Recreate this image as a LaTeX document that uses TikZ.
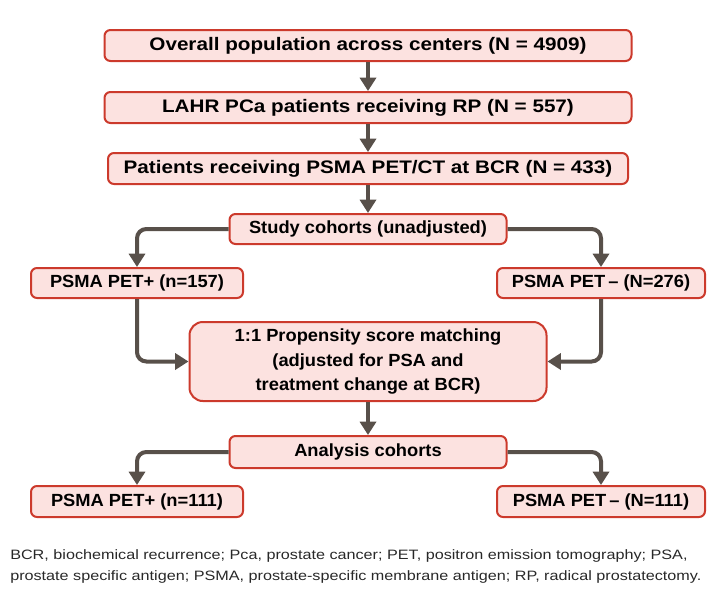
\documentclass[tikz,border=0pt]{standalone}
\usepackage{fontspec}
\setmainfont{Liberation Sans}
\newfontfamily\bigf[FakeStretch=1.14]{Liberation Sans}
\newfontfamily\smallf[FakeStretch=1.04]{Liberation Sans}
\newfontfamily\notef[FakeStretch=1.19]{Liberation Sans}
\usetikzlibrary{arrows.meta}
\definecolor{boxfill}{RGB}{252,226,224}
\definecolor{boxline}{RGB}{204,58,44}
\definecolor{arr}{RGB}{88,80,74}
\definecolor{note}{RGB}{40,40,40}
\tikzset{
  box/.style={draw=boxline, fill=boxfill, line width=1.5pt, rounded corners=4.5pt, inner sep=0pt, align=center, font=\bigf\bfseries\fontsize{13.6}{16}\selectfont},
  sbox/.style={box, font=\smallf\bfseries\fontsize{13.2}{15}\selectfont},
  conn/.style={draw=arr, line width=3pt, rounded corners=7pt, -{Triangle[width=12pt,length=10pt]}},
}
\begin{document}
\begin{tikzpicture}[x=0.75pt,y=-0.75pt]
\useasboundingbox (0,0) rectangle (717,603);
\node[box, minimum width={527*0.75pt}, minimum height={31*0.75pt}] (a) at (368,45.5) {Overall population across centers (N = 4909)};
\node[box, minimum width={527*0.75pt}, minimum height={31*0.75pt}] (b) at (368,107.5) {LAHR PCa patients receiving RP (N = 557)};
\node[box, minimum width={520*0.75pt}, minimum height={31*0.75pt}] (c) at (368,168.5) {Patients receiving PSMA PET/CT at BCR (N = 433)};
\node[sbox, minimum width={277*0.75pt}, minimum height={30*0.75pt}] (d) at (368,229) {Study cohorts (unadjusted)};
\node[sbox, minimum width={212*0.75pt}, minimum height={30*0.75pt}] (e) at (137,283) {PSMA PET+ (n=157)};
\node[sbox, minimum width={208*0.75pt}, minimum height={30*0.75pt}] (f) at (601,283) {PSMA PET\,– (N=276)};
\node[sbox, minimum width={357*0.75pt}, minimum height={79*0.75pt}, rounded corners=10pt, font=\smallf\bfseries\fontsize{13.2}{18.6}\selectfont] (g) at (368,361.5) {1:1 Propensity score matching\\(adjusted for PSA and\\treatment change at BCR)};
\node[sbox, minimum width={277*0.75pt}, minimum height={32*0.75pt}] (h) at (368,452) {Analysis cohorts};
\node[sbox, minimum width={212*0.75pt}, minimum height={31*0.75pt}] (i) at (137,501.5) {PSMA PET+ (n=111)};
\node[sbox, minimum width={208*0.75pt}, minimum height={31*0.75pt}] (j) at (601,501.5) {PSMA PET\,– (N=111)};
\draw[conn] (a.south) -- (b.north);
\draw[conn] (b.south) -- (c.north);
\draw[conn] (c.south) -- (d.north);
\draw[conn] (d.west) -| (e.north);
\draw[conn] (d.east) -| (f.north);
\draw[conn] (e.south) |- (g.west);
\draw[conn] (f.south) |- (g.east);
\draw[conn] (g.south) -- (h.north);
\draw[conn] (h.west) -| (i.north);
\draw[conn] (h.east) -| (j.north);
\node[anchor=north west, align=left, inner sep=0pt, text=note, font=\notef\fontsize{10.2}{15.8}\selectfont] (note) at (10,549) {BCR, biochemical recurrence; Pca, prostate cancer; PET, positron emission tomography; PSA,\\prostate specific antigen; PSMA, prostate-specific membrane antigen; RP, radical prostatectomy.};
\end{tikzpicture}
\end{document}
